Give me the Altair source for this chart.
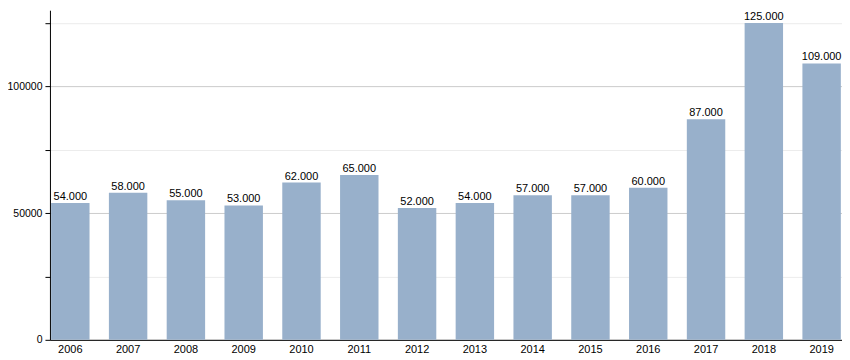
import altair as alt
import pandas as pd

years = ["2006", "2007", "2008", "2009", "2010", "2011", "2012",
         "2013", "2014", "2015", "2016", "2017", "2018", "2019"]
values = [54000, 58000, 55000, 53000, 62000, 65000, 52000,
          54000, 57000, 57000, 60000, 87000, 125000, 109000]

df = pd.DataFrame({"year": years, "value": values})
df["label"] = [f"{v:,}".replace(",", ".") for v in values]

FONT = "Liberation Sans"

x = alt.X("year:N", title=None, sort=None,
          scale=alt.Scale(paddingInner=0.335, paddingOuter=0.02),
          axis=alt.Axis(labelAngle=0, ticks=False, domainColor="#000",
                        labelPadding=4, labelFont=FONT, labelFontSize=11,
                        labelColor="#000"))
y = alt.Y("value:Q", title=None,
          scale=alt.Scale(domain=[0, 130000], nice=False),
          axis=alt.Axis(values=[0, 25000, 50000, 75000, 100000, 125000],
                        labelExpr="datum.value % 50000 == 0 ? datum.value : ''",
                        format="d",
                        gridColor={"condition": {"test": "datum.value % 50000 == 0", "value": "#cccccc"}, "value": "#ececec"},
                        domainColor="#000", tickColor="#000", tickSize=5,
                        labelPadding=3, labelFont=FONT, labelFontSize=10.5,
                        labelColor="#000"))

bars = alt.Chart(df).mark_bar(color="#98b0cb").encode(x=x, y=y)
text = alt.Chart(df).mark_text(baseline="bottom", dy=-1, font=FONT, fontSize=11,
                               color="#000").encode(
    x=alt.X("year:N", sort=None), y="value:Q", text="label:N")

chart = (bars + text).properties(
    width=793, height=330,
    autosize=alt.AutoSizeParams(type="none"),
    padding={"left": 42, "top": 2, "right": 0, "bottom": 20},
).configure_view(stroke=None).configure_axis(gridWidth=1)

chart.save("out.html", embed_options={"renderer": "svg", "actions": False})
